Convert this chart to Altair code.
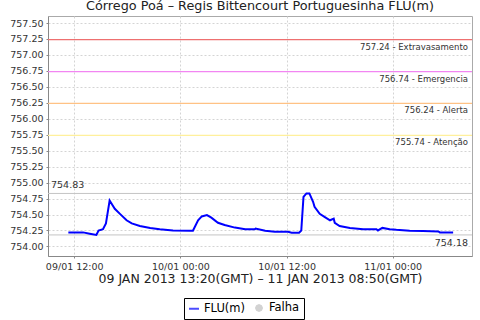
import altair as alt
import pandas as pd

times = [
    "2013-01-09T11:20:00Z", "2013-01-09T13:00:00Z", "2013-01-09T13:45:00Z", "2013-01-09T14:30:00Z",
    "2013-01-09T14:45:00Z", "2013-01-09T15:15:00Z", "2013-01-09T15:35:00Z", "2013-01-09T16:00:00Z",
    "2013-01-09T16:35:00Z", "2013-01-09T17:10:00Z", "2013-01-09T17:55:00Z", "2013-01-09T18:30:00Z",
    "2013-01-09T19:25:00Z", "2013-01-09T20:35:00Z", "2013-01-09T21:40:00Z", "2013-01-09T23:10:00Z",
    "2013-01-10T01:05:00Z", "2013-01-10T01:25:00Z", "2013-01-10T02:00:00Z", "2013-01-10T02:25:00Z",
    "2013-01-10T03:00:00Z", "2013-01-10T03:30:00Z", "2013-01-10T04:15:00Z", "2013-01-10T05:00:00Z",
    "2013-01-10T06:10:00Z", "2013-01-10T07:20:00Z", "2013-01-10T08:25:00Z", "2013-01-10T08:30:00Z",
    "2013-01-10T09:35:00Z", "2013-01-10T10:40:00Z", "2013-01-10T12:10:00Z", "2013-01-10T12:35:00Z",
    "2013-01-10T13:25:00Z", "2013-01-10T13:40:00Z", "2013-01-10T13:55:00Z", "2013-01-10T14:15:00Z",
    "2013-01-10T14:35:00Z", "2013-01-10T15:00:00Z", "2013-01-10T15:10:00Z", "2013-01-10T15:45:00Z",
    "2013-01-10T16:20:00Z", "2013-01-10T16:55:00Z", "2013-01-10T17:20:00Z", "2013-01-10T17:27:00Z",
    "2013-01-10T18:00:00Z", "2013-01-10T19:10:00Z", "2013-01-10T20:40:00Z", "2013-01-10T22:10:00Z",
    "2013-01-10T22:20:00Z", "2013-01-10T22:50:00Z", "2013-01-10T23:40:00Z", "2013-01-11T00:25:00Z",
    "2013-01-11T01:55:00Z", "2013-01-11T03:25:00Z", "2013-01-11T05:10:00Z", "2013-01-11T05:20:00Z",
    "2013-01-11T06:50:00Z",
]
levels = [
    754.22, 754.22, 754.20, 754.18,
    754.25, 754.27, 754.36, 754.72,
    754.59, 754.51, 754.41, 754.36,
    754.32, 754.29, 754.27, 754.25,
    754.245, 754.245, 754.41, 754.47,
    754.49, 754.45, 754.37, 754.335,
    754.295, 754.27, 754.27, 754.28,
    754.245, 754.23, 754.23, 754.215,
    754.215, 754.25, 754.775, 754.83,
    754.83, 754.70, 754.62, 754.51,
    754.46, 754.41, 754.435, 754.37,
    754.32, 754.29, 754.27, 754.27,
    754.25, 754.29, 754.27, 754.26,
    754.245, 754.24, 754.235, 754.22,
    754.22,
]

threshold_values = [757.24, 756.74, 756.24, 755.74]
threshold_names = ["Extravasamento", "Emergencia", "Alerta", "Atenção"]
threshold_colors = ["#ee7070", "#f286f2", "#ffc285", "#fff09c"]

extreme_values = [754.83, 754.18]

series_names = ["FLU(m)", "Falha"]
series_colors = ["#0000ff", "#c0c0c0"]
# legend symbols: a short line, and a small solid dot (nested rings)
series_symbols = [
    "M-1,0H1",
    "M0.6,0L0.42,0.42L0,0.6L-0.42,0.42L-0.6,0L-0.42,-0.42L0,-0.6L0.42,-0.42Z"
    "M0.3,0L0,0.3L-0.3,0L0,-0.3ZM-0.1,0H0.1",
]

x_tick_days = [9, 10, 10, 11]
x_tick_hours = [12, 0, 12, 0]

x_domain = [
    alt.DateTime(year=2013, month=1, date=9, hours=9, minutes=2, utc=True),
    alt.DateTime(year=2013, month=1, date=11, hours=8, minutes=58, utc=True),
]
y_domain = [753.85, 757.61]
y_ticks = [754.0, 754.25, 754.5, 754.75, 755.0, 755.25, 755.5, 755.75,
           756.0, 756.25, 756.5, 756.75, 757.0, 757.25, 757.5]

FONT = "DejaVu Sans"

df = pd.DataFrame({"t": times, "v": levels, "serie": ["FLU(m)"] * len(times)})
thr = pd.DataFrame({
    "v": threshold_values,
    "color": threshold_colors,
    "label": [f"{v:.2f} - {n}" for v, n in zip(threshold_values, threshold_names)],
})
ext_hi = pd.DataFrame({"v": [extreme_values[0]], "label": [f"{extreme_values[0]:.2f}"]})
ext_lo = pd.DataFrame({"v": [extreme_values[1]], "label": [f"{extreme_values[1]:.2f}"]})
ext = pd.DataFrame({"v": extreme_values})

x_axis = alt.Axis(
    title="09 JAN 2013 13:20(GMT) – 11 JAN 2013 08:50(GMT)",
    format="%d/%m %H:%M",
    values=[alt.DateTime(year=2013, month=1, date=d, hours=h, utc=True)
            for d, h in zip(x_tick_days, x_tick_hours)],
    labelFontSize=9.5,
    labelColor="#333333",
    titleFontSize=12.5,
    titleFontWeight="normal",
    titleColor="#222222",
    titlePadding=2,
    gridDash=[2, 2],
    gridColor="#d4d4d4",
    domainColor="#888888",
    tickColor="#888888",
    tickSize=2,
    labelPadding=3,
)
x_enc = alt.X("t:T", scale=alt.Scale(type="utc", domain=x_domain), axis=x_axis)

y_axis = alt.Axis(
    title=None,
    values=y_ticks,
    format=".2f",
    labelOverlap=False,
    labelFontSize=9.5,
    labelColor="#333333",
    gridDash=[2, 2],
    gridColor="#d4d4d4",
    domainColor="#888888",
    tickColor="#888888",
    tickSize=2,
    labelPadding=3,
)
y_enc = alt.Y("v:Q", scale=alt.Scale(domain=y_domain, nice=False, zero=False), axis=y_axis)

legend = alt.Legend(
    title=None,
    orient="none",
    legendX=136,
    legendY=282,
    direction="horizontal",
    strokeColor="black",
    padding=4,
    labelFontSize=11.5,
    labelColor="black",
    labelFont=FONT,
    labelOffset=4,
    columnPadding=6,
    symbolStrokeWidth=2,
    symbolSize=100,
)

line = alt.Chart(df).mark_line(strokeWidth=2, color=series_colors[0]).encode(
    x=x_enc,
    y=y_enc,
)

legend_layer = alt.Chart(df).mark_point(filled=False, strokeWidth=2, size=0).encode(
    x=x_enc,
    y=y_enc,
    color=alt.Color("serie:N", scale=alt.Scale(domain=series_names, range=series_colors), legend=legend),
    shape=alt.Shape("serie:N", scale=alt.Scale(domain=series_names, range=series_symbols), legend=legend),
)

thr_rules = alt.Chart(thr).mark_rule(strokeWidth=1.2).encode(
    y=y_enc,
    stroke=alt.Stroke("color:N", scale=None, legend=None),
)
thr_text = alt.Chart(thr).mark_text(
    align="right", baseline="top", dy=3, fontSize=8.5, font=FONT, color="#333333"
).encode(
    x=alt.value(420),
    y=y_enc,
    text="label:N",
)

ext_rules = alt.Chart(ext).mark_rule(color="#c4c4c4", strokeWidth=1).encode(
    y=y_enc,
)
ext_text_max = alt.Chart(ext_hi).mark_text(
    align="left", baseline="bottom", dy=-3, fontSize=9.5, font=FONT, color="#333333"
).encode(x=alt.value(3), y=y_enc, text="label:N")
ext_text_min = alt.Chart(ext_lo).mark_text(
    align="right", baseline="top", dy=3, fontSize=9.5, font=FONT, color="#333333"
).encode(x=alt.value(420), y=y_enc, text="label:N")

chart = alt.layer(
    thr_rules, ext_rules, line, legend_layer, thr_text, ext_text_max, ext_text_min
).properties(
    width=424,
    height=240,
    title=alt.TitleParams(
        "Córrego Poá – Regis Bittencourt Portuguesinha FLU(m)",
        fontSize=12.8,
        fontWeight="normal",
        font=FONT,
        color="#222222",
        anchor="middle",
        offset=3,
    ),
    autosize=alt.AutoSizeParams(type="none"),
    padding={"left": 48, "top": 16, "right": 8, "bottom": 64},
).configure(
    font=FONT,
).configure_view(
    stroke="#aaaaaa",
).configure_axis(
    labelFont=FONT,
    titleFont=FONT,
).configure_axisY(
    labelOverlap=False,
)

chart.save("out.html", embed_options={"renderer": "svg", "actions": False})
